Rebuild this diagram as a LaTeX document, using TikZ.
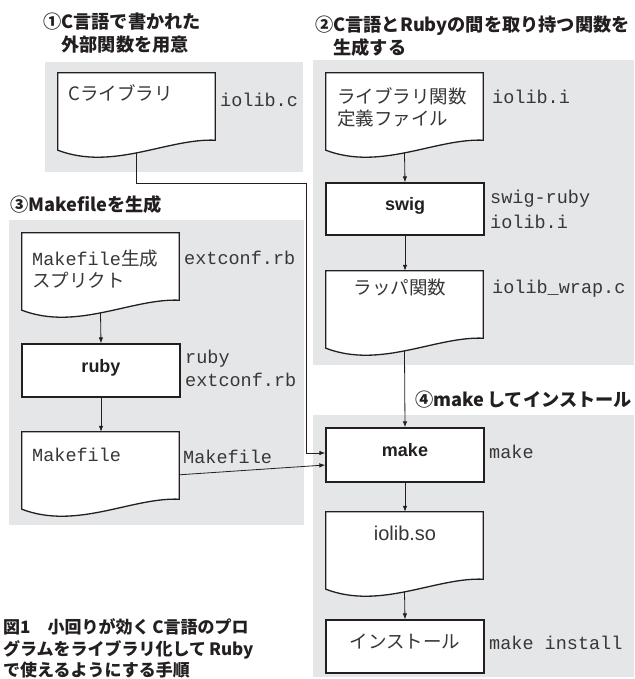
\documentclass[tikz,border=0pt]{standalone}
\usepackage{fontspec}
\setmainfont{Noto Sans CJK JP}
\newfontfamily\jp{Noto Sans CJK JP}
\newfontfamily\mono{Liberation Mono}
\newfontfamily\lsans{Liberation Sans}
\usetikzlibrary{arrows.meta,calc}
\definecolor{panelgray}{RGB}{229,230,232}
\definecolor{ink}{RGB}{35,31,32}
\definecolor{softink}{RGB}{55,55,55}
\newcommand\docoutline[1]{%
  \draw[outline] (#1.south west) -- (#1.north west) -- (#1.north east)
    -- ($(#1.south east)+(0,-10)$)
    .. controls ($(#1.south west)+(109.9,-12)$) and ($(#1.south west)+(54.95,21)$) ..
    (#1.south west) -- cycle;}
\begin{document}
\begin{tikzpicture}[x=1pt,y=-1pt,
  panel/.style={fill=panelgray,draw=none},
  docnode/.style={draw=none,minimum width=157pt,minimum height=77pt,inner sep=0pt},
  outline/.style={draw=ink,line width=1.3pt,fill=white},
  procbox/.style={draw=ink,line width=1.3pt,fill=white,minimum width=158pt,minimum height=53pt,
    inner sep=0pt,font=\lsans\bfseries\fontsize{18}{20}\selectfont,text=ink,
    text height=0.75em,text depth=0.45em},
  flow/.style={draw=ink,line width=0.8pt,-{Latex[length=6pt,width=4.5pt]}},
  hdr/.style={font=\bfseries\fontsize{18.2}{23}\selectfont,text=ink,inner sep=0pt,align=left,anchor=west},
  doctxt/.style={font=\jp\fontsize{18.5}{22}\selectfont,text=softink,inner sep=0pt,align=left,anchor=west},
  codetxt/.style={font=\mono\fontsize{18.5}{24}\selectfont,text=softink,inner sep=0pt,align=left,anchor=west},
  captxt/.style={font=\bfseries\fontsize{17}{21.5}\selectfont,text=ink,inner sep=0pt,align=left,anchor=west}
]
\clip (0,0) rectangle (634,679);
\useasboundingbox (0,0) rectangle (634,679);

% panels
\fill[panel] (45,62) rectangle (303,172);
\fill[panel] (313,60) rectangle (634,365);
\fill[panel] (9,220) rectangle (304,525);
\fill[panel] (313,415) rectangle (634,677);

% headers
\node[hdr] (h1) at (43,33.5) {①C言語で書かれた\\\phantom{①}外部関数を用意};
\node[hdr] (h2) at (315,36.5) {②C言語とRubyの間を取り持つ関数を\\\phantom{②}生成する};
\node[hdr] (h3) at (10,205) {③Makefileを生成};
\node[hdr] (h4) at (415,400) {④make\,してインストール};

% document nodes
\node[docnode] (clib)   at (136.5,111.5) {};
\node[docnode] (libdef) at (404.5,111.5) {};
\node[docnode] (wrap)   at (404.5,309.5) {};
\node[docnode] (mkgen)  at (100.5,271.5) {};
\node[docnode] (mkf)    at (100.5,470.5) {};
\node[docnode] (iolib)  at (404.5,550.5) {};
\docoutline{clib}
\docoutline{libdef}
\docoutline{wrap}
\docoutline{mkgen}
\docoutline{mkf}
\docoutline{iolib}

% process boxes
\node[procbox,minimum height=52pt] (swig) at (405,209) {swig};
\node[procbox] (rubyb) at (101,370.5) {ruby};
\node[procbox,minimum height=54pt] (make) at (405,455) {make};
\node[procbox,font=\jp\fontsize{18.5}{20}\selectfont,text=softink] (inst) at (405,646.5) {インストール};

% texts inside documents
\node[doctxt] (tclib) at (68,93) {Cライブラリ};
\node[doctxt] (tlibdef) at (337,107.5) {ライブラリ関数\\定義ファイル};
\node[doctxt,anchor=center] (twrap) at (400,287) {ラッパ関数};
\node[doctxt] (tmkgen) at (32,269) {{\mono Makefile}生成\\スプリクト};
\node[codetxt] (tmkf) at (32,455) {Makefile};
\node[doctxt,anchor=center,font=\lsans\fontsize{20}{22}\selectfont] (tiolib) at (405,533) {iolib.so};

% side labels
\node[codetxt] (lclib) at (220,100) {iolib.c};
\node[codetxt] (llibdef) at (492,97) {iolib.i};
\node[codetxt,font=\mono\fontsize{18.5}{25}\selectfont] (lswig) at (490,209.5) {swig-ruby\\iolib.i};
\node[codetxt] (lwrap) at (492,289) {iolib\_wrap.c};
\node[codetxt] (lmkgen) at (184,258) {extconf.rb};
\node[codetxt,font=\mono\fontsize{18.5}{23}\selectfont] (lruby) at (185,368.5) {ruby\\extconf.rb};
\node[codetxt] (lmkf) at (183,457) {Makefile};
\node[codetxt] (lmake) at (489,452) {make};
\node[codetxt] (linst) at (489,643) {make install};

% connectors
\coordinate (bendA) at (306,183);
\coordinate (bendB) at (306,453);
\draw[flow] ($(libdef.south)+(0,3)$) -- (swig.north);
\draw[flow] (swig.south) -- (swig.south |- wrap.north);
\draw[flow] ($(wrap.south)+(0,3)$) -- (make.north);
\draw[flow] ($(mkgen.south)+(0,3)$) -- (rubyb.north);
\draw[flow] (rubyb.south) -- (rubyb.south |- mkf.north);
\draw[flow] ($(mkf.north east)+(0,43)$) -- ($(make.west)+(0,10)$);
\draw[flow] ($(clib.south)+(0,3)$) |- (bendA) -- (bendB) -- (make.west |- bendB);
\draw[flow] (make.south) -- (make.south |- iolib.north);
\draw[flow] ($(iolib.south)+(0,3)$) -- (inst.north);

% caption
\node[captxt] (cap) at (3,648.5) {図1　小回りが効く\,C言語のプロ\\グラムをライブラリ化して\,Ruby\\で使えるようにする手順};
\end{tikzpicture}
\end{document}
